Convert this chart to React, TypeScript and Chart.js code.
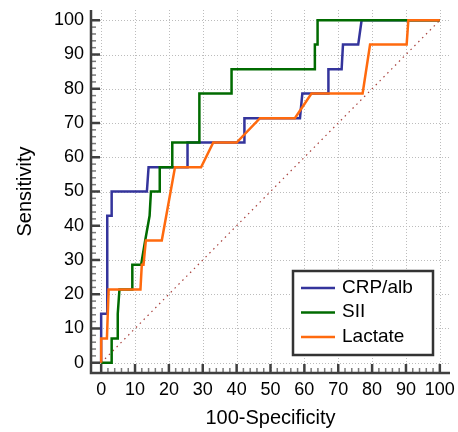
import React, { useEffect, useRef } from 'react';
import { Chart, registerables } from 'chart.js';

Chart.register(...registerables);

// ---- data ----
const seriesNames = ['CRP/alb', 'SII', 'Lactate'];
const seriesColors = ['#34349c', '#006b00', '#ff6a0e'];

const crpX = [0, 0, 1.8, 1.8, 3.1, 3.1, 13.5, 14.0, 25.5, 25.5, 42.3, 42.3, 58.7, 59.4, 67.1, 67.1, 71.0, 71.4, 75.9, 76.9, 100];
const crpY = [0, 14.3, 14.3, 42.9, 42.9, 50, 50, 57.1, 57.1, 64.3, 64.3, 71.4, 71.4, 78.6, 78.6, 85.7, 85.7, 92.9, 92.9, 100, 100];

const siiX = [0, 3.1, 3.1, 4.9, 4.9, 5.4, 9.2, 9.2, 11.8, 13.0, 14.3, 14.7, 17.3, 17.3, 21.0, 21.0, 29.0, 29.0, 38.5, 38.5, 63.1, 63.1, 63.9, 63.9, 100];
const siiY = [0, 0, 7.1, 7.1, 14.3, 21.4, 21.4, 28.6, 28.6, 35.7, 42.9, 50, 50, 57.1, 57.1, 64.3, 64.3, 78.6, 78.6, 85.7, 85.7, 92.9, 92.9, 100, 100];

const lacX = [0, 0, 1.7, 2.2, 11.6, 12.0, 12.5, 13.2, 17.9, 21.8, 29.5, 33.1, 40.0, 46.9, 57.2, 62.1, 77.2, 79.4, 90.2, 90.7, 100];
const lacY = [0, 7.1, 7.1, 21.4, 21.4, 28.6, 28.6, 35.7, 35.7, 57.1, 57.1, 64.3, 64.3, 71.4, 71.4, 78.6, 78.6, 92.9, 92.9, 100, 100];

const diagX = [0, 100];
const diagY = [0, 100];

const majorTicks = [0, 10, 20, 30, 40, 50, 60, 70, 80, 90, 100];
const axisMin = -3;
const axisMax = 103;
const xTitle = '100-Specificity';
const yTitle = 'Sensitivity';

const FONT = '"Liberation Sans", Arial, Helvetica, sans-serif';

const toPoints = (xs: number[], ys: number[]) => xs.map((v, i) => ({ x: v, y: ys[i] }));

const framePlugin = {
  id: 'rocFrame',
  beforeDatasetsDraw(chart: any) {
    const { ctx, chartArea: a, scales } = chart;
    const xs = scales.x;
    const ys = scales.y;
    ctx.save();
    ctx.strokeStyle = '#bcbcbc';
    ctx.lineWidth = 1;
    ctx.setLineDash([1, 2]);
    for (const v of majorTicks) {
      const px = Math.round(xs.getPixelForValue(v)) + 0.5;
      ctx.beginPath();
      ctx.moveTo(px, a.top);
      ctx.lineTo(px, a.bottom);
      ctx.stroke();
      const py = Math.round(ys.getPixelForValue(v)) + 0.5;
      ctx.beginPath();
      ctx.moveTo(a.left, py);
      ctx.lineTo(a.right, py);
      ctx.stroke();
    }
    ctx.restore();
  },
  afterDatasetsDraw(chart: any) {
    const { ctx, chartArea: a, scales } = chart;
    const xs = scales.x;
    const ys = scales.y;
    ctx.save();
    ctx.setLineDash([]);
    // minor ticks
    ctx.strokeStyle = '#7a7a7a';
    ctx.lineWidth = 1.5;
    for (let v = 0; v <= 100; v += 2) {
      if (v % 10 === 0) continue;
      const px = xs.getPixelForValue(v);
      ctx.beginPath();
      ctx.moveTo(px, a.bottom);
      ctx.lineTo(px, a.bottom - 5);
      ctx.stroke();
      const py = ys.getPixelForValue(v);
      ctx.beginPath();
      ctx.moveTo(a.left, py);
      ctx.lineTo(a.left + 5, py);
      ctx.stroke();
    }
    // major ticks
    ctx.strokeStyle = '#404040';
    ctx.lineWidth = 2.5;
    for (const v of majorTicks) {
      const px = xs.getPixelForValue(v);
      ctx.beginPath();
      ctx.moveTo(px, a.bottom);
      ctx.lineTo(px, a.bottom - 9);
      ctx.stroke();
      const py = ys.getPixelForValue(v);
      ctx.beginPath();
      ctx.moveTo(a.left, py);
      ctx.lineTo(a.left + 9, py);
      ctx.stroke();
    }
    // axis lines
    ctx.lineWidth = 2.5;
    ctx.strokeStyle = '#404040';
    ctx.lineJoin = 'miter';
    ctx.beginPath();
    ctx.moveTo(a.left, a.top);
    ctx.lineTo(a.left, a.bottom);
    ctx.lineTo(a.right, a.bottom);
    ctx.stroke();

    // legend box
    const w = 140;
    const h = 84;
    const right = a.right - 17;
    const bottom = a.bottom - 18;
    const left = right - w;
    const top = bottom - h;
    ctx.fillStyle = '#ffffff';
    ctx.fillRect(left, top, w, h);
    ctx.strokeStyle = '#333333';
    ctx.lineWidth = 2.5;
    ctx.strokeRect(left, top, w, h);
    ctx.font = `19px ${FONT}`;
    ctx.textAlign = 'left';
    ctx.textBaseline = 'alphabetic';
    seriesNames.forEach((name, i) => {
      const ly = top + 17 + i * 24.5;
      ctx.strokeStyle = seriesColors[i];
      ctx.lineWidth = 2.5;
      ctx.beginPath();
      ctx.moveTo(left + 8, ly);
      ctx.lineTo(left + 42, ly);
      ctx.stroke();
      ctx.fillStyle = '#000000';
      ctx.fillText(name, left + 49, ly + 4.7);
    });
    ctx.restore();
  },
};

export default function App() {
  const ref = useRef<HTMLCanvasElement | null>(null);

  useEffect(() => {
    if (!ref.current) return;
    const setTicks = (scale: any) => {
      scale.ticks = majorTicks.map((v) => ({ value: v }));
    };
    const chart = new Chart(ref.current, {
      type: 'scatter',
      data: {
        datasets: [
          {
            label: 'diag',
            data: toPoints(diagX, diagY),
            showLine: true,
            borderColor: '#a8403c',
            borderWidth: 1.2,
            borderDash: [1.5, 4],
            pointRadius: 0,
            order: 4,
          },
          {
            label: seriesNames[0],
            data: toPoints(crpX, crpY),
            showLine: true,
            borderColor: seriesColors[0],
            borderWidth: 2.5,
            pointRadius: 0,
            tension: 0,
            order: 3,
          },
          {
            label: seriesNames[1],
            data: toPoints(siiX, siiY),
            showLine: true,
            borderColor: seriesColors[1],
            borderWidth: 2.5,
            pointRadius: 0,
            tension: 0,
            order: 2,
          },
          {
            label: seriesNames[2],
            data: toPoints(lacX, lacY),
            showLine: true,
            borderColor: seriesColors[2],
            borderWidth: 2.5,
            pointRadius: 0,
            tension: 0,
            order: 1,
          },
        ],
      },
      options: {
        animation: false,
        responsive: false,
        maintainAspectRatio: false,
        devicePixelRatio: 1,
        layout: { padding: { top: 10, right: 8, left: 0, bottom: 0 } },
        plugins: {
          legend: { display: false },
          tooltip: { enabled: false },
        },
        scales: {
          x: {
            type: 'linear',
            position: 'bottom',
            min: axisMin,
            max: axisMax,
            afterBuildTicks: setTicks,
            afterFit: (s: any) => {
              s.height = 59;
              s.paddingLeft = 0;
              s.paddingRight = 0;
            },
            grid: { display: false, drawTicks: false, tickLength: 0 },
            border: { display: false },
            ticks: {
              padding: 6,
              color: '#000000',
              font: { family: FONT, size: 18 },
              maxRotation: 0,
              autoSkip: false,
              callback: (v: any) => String(v),
            },
            title: {
              display: true,
              text: xTitle,
              color: '#000000',
              font: { family: FONT, size: 20 },
              padding: { top: 0, bottom: 2 },
            },
          },
          y: {
            type: 'linear',
            position: 'left',
            min: axisMin,
            max: axisMax,
            afterBuildTicks: setTicks,
            afterFit: (s: any) => {
              s.width = 91;
              s.paddingTop = 0;
              s.paddingBottom = 0;
            },
            grid: { display: false, drawTicks: false, tickLength: 0 },
            border: { display: false },
            ticks: {
              padding: 7,
              color: '#000000',
              font: { family: FONT, size: 18 },
              autoSkip: false,
              callback: (v: any) => String(v),
            },
            title: {
              display: true,
              text: yTitle,
              color: '#000000',
              font: { family: FONT, size: 20 },
              padding: { top: 13, bottom: 0 },
            },
          },
        },
      },
      plugins: [framePlugin],
    } as any);
    return () => chart.destroy();
  }, []);

  return (
    <div style={{ position: 'fixed', left: 0, top: 0, width: 458, height: 432, background: '#ffffff' }}>
      <canvas ref={ref} width={458} height={432} style={{ display: 'block' }} />
    </div>
  );
}
